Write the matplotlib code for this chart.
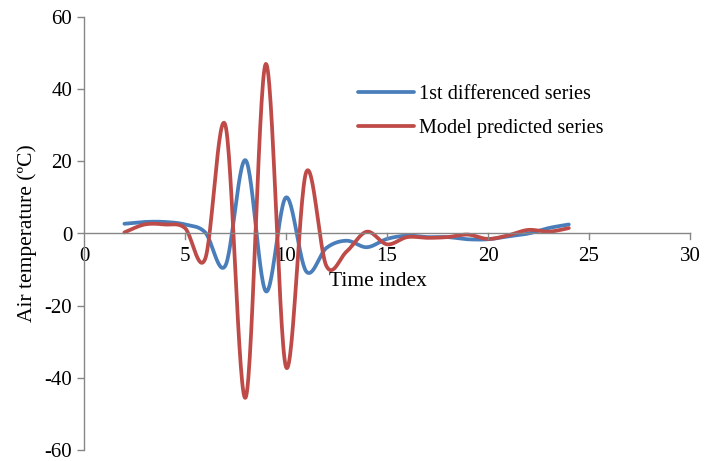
import numpy as np
import matplotlib
matplotlib.use('Agg')
from matplotlib import pyplot as plt

# данные
time_idx = list(range(2, 25))
diff_series = [2.7, 3.2, 3.2, 2.5, 0.3, -8.9, 20.3, -16.0, 10.0, -10.5, -4.0, -2.0,
               -3.8, -1.5, -0.6, -1.0, -1.0, -1.6, -1.6, -0.8, 0.0, 1.5, 2.5]
model_series = [0.3, 2.5, 2.5, 1.5, -7.0, 30.0, -45.5, 47.0, -37.0, 17.0, -9.0, -5.0,
                0.5, -3.0, -1.0, -1.2, -1.0, -0.3, -1.5, -0.5, 1.0, 0.5, 1.5]
series_names = ['1st differenced series', 'Model predicted series']


def smooth(x, y, n=30):
    # сглаживание как в Excel (Catmull-Rom через Безье)
    x = np.asarray(x, float)
    y = np.asarray(y, float)
    px = np.concatenate([[x[0]], x, [x[-1]]])
    py = np.concatenate([[y[0]], y, [y[-1]]])
    xs, ys = [], []
    t = np.linspace(0, 1, n)
    for i in range(1, len(px) - 2):
        p0 = np.array([px[i], py[i]])
        p3 = np.array([px[i + 1], py[i + 1]])
        p1 = p0 + (np.array([px[i + 1], py[i + 1]]) - np.array([px[i - 1], py[i - 1]])) / 6
        p2 = p3 - (np.array([px[i + 2], py[i + 2]]) - np.array([px[i], py[i]])) / 6
        b = ((1 - t) ** 3)[:, None] * p0 + (3 * (1 - t) ** 2 * t)[:, None] * p1 \
            + (3 * (1 - t) * t ** 2)[:, None] * p2 + (t ** 3)[:, None] * p3
        xs.extend(b[:, 0])
        ys.extend(b[:, 1])
    return xs, ys


plt.rcParams['font.family'] = ['Liberation Serif', 'DejaVu Serif']
plt.rcParams['font.size'] = 15
plt.rcParams['axes.unicode_minus'] = False

fig = plt.figure(figsize=(7.04, 4.61), dpi=100)
ax = fig.add_axes([84 / 704, 11 / 461, 606 / 704, 433 / 461])

bx, by = smooth(time_idx, diff_series)
rx, ry = smooth(time_idx, model_series)
ax.plot(bx, by, color='#4A7EBB', lw=2.7, label=series_names[0], solid_capstyle='round')
ax.plot(rx, ry, color='#BE4B48', lw=2.7, label=series_names[1], solid_capstyle='round')

ax.set_xlim(0, 30)
ax.set_ylim(-60, 60)
ax.set_xticks(range(0, 31, 5))
ax.set_yticks(range(-60, 61, 20))

ax.spines['bottom'].set_position(('data', 0))
ax.spines['top'].set_visible(False)
ax.spines['right'].set_visible(False)
for s in ['bottom', 'left']:
    ax.spines[s].set_color('#868686')
    ax.spines[s].set_linewidth(1.0)
ax.tick_params(axis='both', colors='#868686', labelcolor='black', length=5, width=1.0)
# в Excel засечки снизу пересекают ось
ax.tick_params(axis='x', length=0, pad=10)
for x in range(5, 31, 5):
    ax.plot([x, x], [0, -1.4], color='#868686', lw=1.0, clip_on=False)

ax.set_xlabel('Time index', fontsize=15.5)
ax.xaxis.set_label_coords(0.485, 0.41)
ax.set_ylabel('Air temperature (ºC)', fontsize=15.5, labelpad=5)

ax.legend(loc='upper left', bbox_to_anchor=(0.452, 0.843), frameon=False,
          borderaxespad=0, borderpad=0, handlelength=2.75, handletextpad=0.25,
          fontsize=14.6, labelspacing=0.72)

fig.savefig('out.png', dpi=100)
